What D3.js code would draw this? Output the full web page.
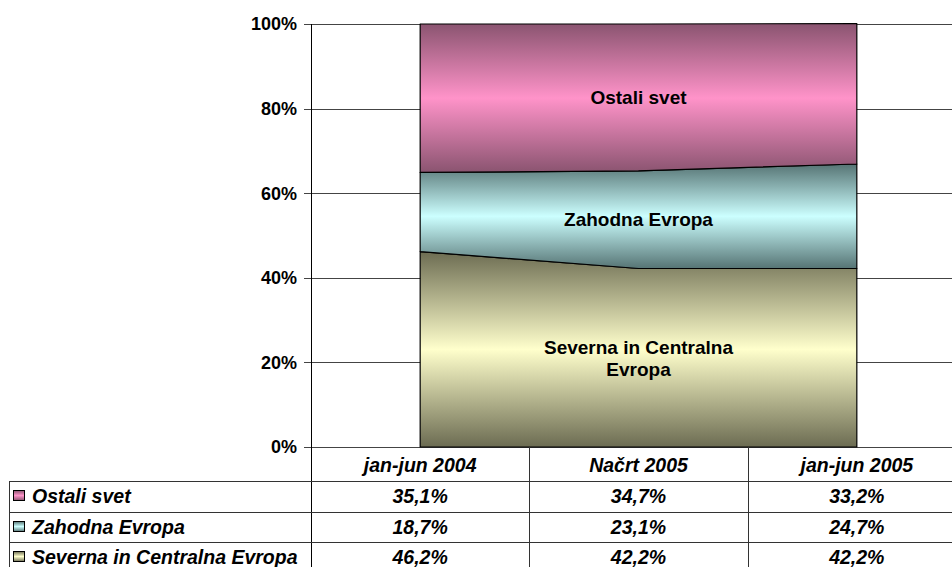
<!DOCTYPE html>
<html>
<head>
<meta charset="utf-8">
<script src="https://cdn.jsdelivr.net/npm/d3@7"></script>
<style>
body{margin:0;background:#fff;}
svg{display:block;font-family:"Liberation Sans",Arial,sans-serif;}
</style>
</head>
<body>
<div id="chart"></div>
<script>
// kategorije in serije (delezi v %)
const categories=["jan-jun 2004","Načrt 2005","jan-jun 2005"];
const seriesNames=["Severna in Centralna Evropa","Zahodna Evropa","Ostali svet"];
const severna=[46.2,42.2,42.2];
const zahodna=[18.7,23.1,24.7];
const ostali=[35.1,34.7,33.2];
const yTicks=[0,20,40,60,80,100];

const seriesValues=[severna,zahodna,ostali];
const palette=[
    {id:"g-sev",dark:"#6c6c52",light:"#ffffcc"},
    {id:"g-zah",dark:"#567474",light:"#ccffff"},
    {id:"g-ost",dark:"#8a5470",light:"#ff93c9"}
];
// labels inside the chart (two lines for the long one)
const areaLabels=[["Severna in Centralna","Evropa"],["Zahodna Evropa"],["Ostali svet"]];

const width=952,height=567;
const mLeft=311,mTop=24,mBottom=447;
const plotRight=966;

const rows=categories.map((c,i)=>{
    const r={cat:c};
    seriesNames.forEach((s,j)=>r[s]=seriesValues[j][i]);
    return r;
});
const stacked=d3.stack().keys(seriesNames)(rows);

const x=d3.scaleBand().domain(categories).range([mLeft,plotRight]);
const xc=d=>x(d)+x.bandwidth()/2;
const y=d3.scaleLinear().domain([0,100]).range([mBottom,mTop]);

const svg=d3.select("#chart").append("svg")
    .attr("width",width)
    .attr("height",height);

const defs=svg.append("defs");
palette.forEach(p=>{
    const g=defs.append("linearGradient")
        .attr("id",p.id)
        .attr("x1",0).attr("y1",0).attr("x2",0).attr("y2",1);
    g.append("stop").attr("offset","0%").attr("stop-color",p.dark);
    g.append("stop").attr("offset","50%").attr("stop-color",p.light);
    g.append("stop").attr("offset","100%").attr("stop-color",p.dark);
});

// mreza
svg.append("g")
    .selectAll("line")
    .data(yTicks)
    .join("line")
    .attr("x1",mLeft-7)
    .attr("x2",width)
    .attr("y1",d=>Math.round(y(d))+0.5)
    .attr("y2",d=>Math.round(y(d))+0.5)
    .attr("stroke","#444")
    .attr("stroke-width",1);

const area=d3.area()
    .x(d=>xc(d.data.cat))
    .y0(d=>y(d[0]))
    .y1(d=>y(d[1]));

svg.append("g")
    .selectAll("path")
    .data(stacked)
    .join("path")
    .attr("d",area)
    .attr("fill",(d,i)=>`url(#${palette[i].id})`)
    .attr("stroke","#000")
    .attr("stroke-width",1.2)
    .attr("stroke-linejoin","round");

// y os
svg.append("line")
    .attr("x1",mLeft+0.5).attr("x2",mLeft+0.5)
    .attr("y1",mTop).attr("y2",height)
    .attr("stroke","#000");

svg.append("g")
    .selectAll("text")
    .data(yTicks)
    .join("text")
    .attr("x",297)
    .attr("y",d=>y(d))
    .attr("dy","0.36em")
    .attr("text-anchor","end")
    .attr("font-size",18)
    .attr("font-weight","bold")
    .text(d=>d+"%");

// oznake v ploskvah
const mid=categories[1];
stacked.forEach((s,i)=>{
    const pt=s[1];
    const cy=y((pt[0]+pt[1])/2);
    const lines=areaLabels[i];
    svg.append("text")
        .attr("x",xc(mid))
        .attr("y",cy-(lines.length-1)*11)
        .attr("text-anchor","middle")
        .attr("font-size",19)
        .attr("font-weight","bold")
        .selectAll("tspan")
        .data(lines)
        .join("tspan")
        .attr("x",xc(mid))
        .attr("dy",(d,k)=>k===0?"0.36em":"22px")
        .text(d=>d);
});

// tabela s podatki
const rowTop=481,rowH=30.5;
const tableRows=[
    {name:"Ostali svet",vals:ostali,pal:palette[2]},
    {name:"Zahodna Evropa",vals:zahodna,pal:palette[1]},
    {name:"Severna in Centralna Evropa",vals:severna,pal:palette[0]}
];
const fmt=v=>d3.format(".1f")(v).replace(".",",")+"%";
const tFont=19.5;

const tbl=svg.append("g");
// horizontalne crte
tbl.selectAll("line.h")
    .data(d3.range(tableRows.length+1))
    .join("line")
    .attr("class","h")
    .attr("x1",9).attr("x2",width)
    .attr("y1",d=>Math.round(rowTop+d*rowH)+0.5)
    .attr("y2",d=>Math.round(rowTop+d*rowH)+0.5)
    .attr("stroke","#333");
// vertikalne crte
tbl.append("line")
    .attr("x1",9.5).attr("x2",9.5)
    .attr("y1",rowTop).attr("y2",height)
    .attr("stroke","#333");
tbl.selectAll("line.v")
    .data(categories.slice(1))
    .join("line")
    .attr("class","v")
    .attr("x1",d=>Math.round(x(d))+0.5)
    .attr("x2",d=>Math.round(x(d))+0.5)
    .attr("y1",mBottom).attr("y2",height)
    .attr("stroke","#333");

// glava
tbl.selectAll("text.head")
    .data(categories)
    .join("text")
    .attr("class","head")
    .attr("x",xc)
    .attr("y",465)
    .attr("dy","0.36em")
    .attr("text-anchor","middle")
    .attr("font-size",tFont)
    .attr("font-weight","bold")
    .attr("font-style","italic")
    .text(d=>d);

tableRows.forEach((r,i)=>{
    const cy=rowTop+i*rowH+rowH/2;
    tbl.append("rect")
        .attr("x",13.5).attr("y",Math.round(cy)-5.5)
        .attr("width",11).attr("height",10)
        .attr("fill",`url(#${r.pal.id})`)
        .attr("stroke","#000");
    tbl.append("text")
        .attr("x",32)
        .attr("y",cy)
        .attr("dy","0.36em")
        .attr("font-size",tFont)
        .attr("font-weight","bold")
        .attr("font-style","italic")
        .text(r.name);
    tbl.selectAll(null)
        .data(categories)
        .join("text")
        .attr("x",xc)
        .attr("y",cy)
        .attr("dy","0.36em")
        .attr("text-anchor","middle")
        .attr("font-size",tFont)
        .attr("font-weight","bold")
        .attr("font-style","italic")
        .text((c,k)=>fmt(r.vals[k]));
});
</script>
</body>
</html>
